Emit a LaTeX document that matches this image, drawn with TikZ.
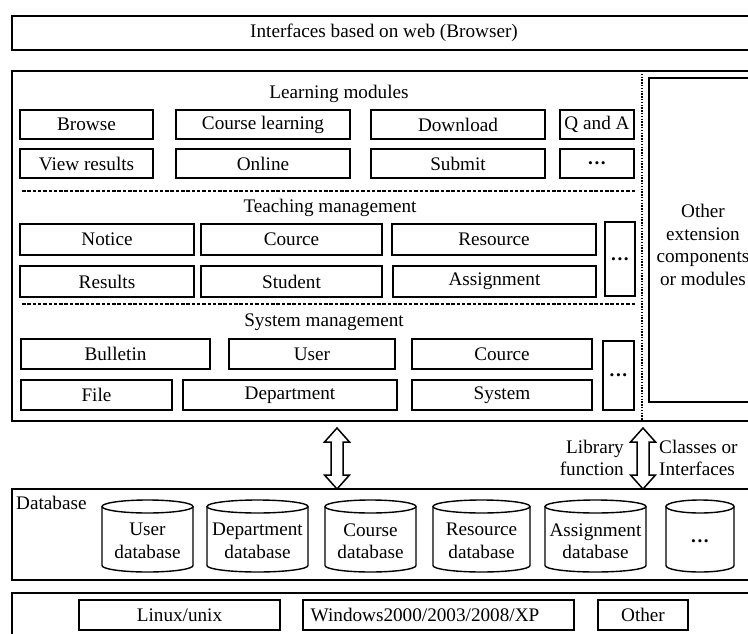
\documentclass[tikz,border=0pt]{standalone}
\usepackage{fontspec}
\setmainfont{Liberation Serif}
\usetikzlibrary{calc}
\newcommand\fs{\fontsize{19.2}{22.5}\selectfont}
\newcommand\dotsx{{\bfseries .\hspace{1.6pt}.\hspace{1.6pt}.}}
\tikzset{
  box/.style={draw, line width=1.6pt, inner sep=0pt, font=\fs},
  outer/.style={draw, line width=1.7pt, inner sep=0pt},
  lbl/.style={inner sep=0pt, font=\fs},
  cylline/.style={line width=1.4pt},
  sepline/.style={line width=1.3pt, dash pattern=on 3.5pt off 1.8pt},
  dotline/.style={line width=2.6pt, dash pattern=on 1.4pt off 1.4pt},
  dblarrow/.style={draw, line width=1.5pt, fill=white, line join=miter},
}
\newcommand\bx[6]{\node[box,minimum width={(#4-#2)*1pt},minimum height={(#5-#3)*1pt}] (#1) at ({(#2+#4)/2},{(#3+#5)/2}) {#6};}
\newcommand\ob[5]{\node[outer,minimum width={(#4-#2)*1pt},minimum height={(#5-#3)*1pt}] (#1) at ({(#2+#4)/2},{(#3+#5)/2}) {};}
\newcommand\cyl[4]{%
  \pgfmathsetmacro\cx{(#2+#3)/2}\pgfmathsetmacro\rx{(#3-#2)/2}%
  \draw[cylline] (\cx,506.5) ellipse [x radius=\rx pt, y radius=6.5pt];
  \draw[cylline] (#2,506.5) -- (#2,565.5) .. controls (#2,569.1) and (\cx-0.5523*\rx,572) .. (\cx,572) .. controls (\cx+0.5523*\rx,572) and (#3,569.1) .. (#3,565.5) -- (#3,506.5);
  \node[lbl, align=center] (#1) at (\cx,541) {#4};
}
\begin{document}
\begin{tikzpicture}[x=1pt,y=-1pt]
\clip (0,0) rectangle (748,633);
\fill[white] (0,0) rectangle (748,633);
% top
\ob{top}{12}{16}{756}{50}
\node[lbl] (toptxt) at (384,33) {Interfaces based on web (Browser)};
% main
\ob{main}{12}{71}{756}{421}
\node[lbl] (lm) at (339,94) {Learning modules};
\bx{browse}{20}{110}{153}{139}{Browse}
\bx{cl}{176}{110}{350}{139}{Course learning}
\bx{dl}{371}{110}{545}{139}{Download}
\bx{qa}{560}{110}{634}{139}{Q and A}
\bx{vr}{20}{149}{153}{178}{View results}
\bx{online}{176}{149}{350}{178}{Online}
\bx{submit}{371}{149}{545}{178}{Submit}
\bx{d1}{560}{149}{634}{178}{\dotsx}
\coordinate (s1a) at (22,191); \coordinate (s1b) at (636,191);
\draw[sepline] (s1a) -- (s1b);
\node[lbl] (tm) at (330,208) {Teaching management};
\bx{notice}{20}{224}{194}{255}{Notice}
\bx{cource1}{201}{224}{382}{255}{Cource}
\bx{resource}{392}{224}{596}{255}{Resource}
\bx{results}{20}{266}{194}{297}{Results}
\bx{student}{201}{266}{382}{297}{Student}
\bx{assign}{393}{266}{596}{297}{Assignment}
\bx{d2}{605}{222}{635}{296}{\dotsx}
\coordinate (s2a) at (22,304); \coordinate (s2b) at (636,304);
\draw[sepline] (s2a) -- (s2b);
\node[lbl] (sm) at (324,322) {System management};
\bx{bulletin}{21}{339}{210}{369}{Bulletin}
\bx{user}{229}{339}{395}{369}{User}
\bx{cource2}{412}{339}{592}{369}{Cource}
\bx{file}{21}{380}{172}{410}{File}
\bx{dept}{183}{380}{397}{410}{Department}
\bx{system}{412}{380}{592}{410}{System}
\bx{d3}{603}{341}{634}{410}{\dotsx}
\coordinate (v1) at (642,71); \coordinate (v2) at (642,421);
\draw[dotline] (v1) -- (v2);
\ob{other}{649}{78}{760}{402}
\node[lbl, align=center] (othertxt) at (703,245) {Other\\extension\\components\\or modules};
% arrows
\coordinate (a1t) at (337,428); \coordinate (a1b) at (337,489);
\coordinate (a2t) at (643,428); \coordinate (a2b) at (643,489);
\foreach \t/\b in {a1t/a1b,a2t/a2b}{
  \draw[dblarrow] (\t) -- ++(12.5,14) -- ++(-6.5,0) -- ($(\b)+(6,-14)$) -- ++(6.5,0) -- (\b) -- ++(-12.5,-14) -- ++(6.5,0) -- ($(\t)+(-6,14)$) -- ++(-6.5,0) -- cycle;
}
\node[lbl, align=right, anchor=east] (libf) at (624,458) {Library\\function};
\node[lbl, align=left, anchor=west] (clsi) at (659,458) {Classes or\\Interfaces};
% database
\ob{db}{12}{489}{756}{580}
\node[lbl, anchor=west] (dbl) at (16,503) {Database};
\cyl{c1}{102}{193}{User\\database}
\cyl{c2}{207}{308}{Department\\database}
\cyl{c3}{325}{416}{Course\\database}
\cyl{c4}{433}{530}{Resource\\database}
\cyl{c5}{545}{646}{Assignment\\database}
\cyl{c6}{666}{734}{\dotsx}
% OS
\ob{os}{12}{593}{756}{660}
\bx{linux}{79}{600}{280}{630}{Linux/unix}
\bx{win}{303}{600}{574}{630}{}
\node[lbl] (wintxt) at (425,615) {Windows2000/2003/2008/XP};
\bx{oth}{598}{600}{688}{630}{Other}
\end{tikzpicture}
\end{document}
